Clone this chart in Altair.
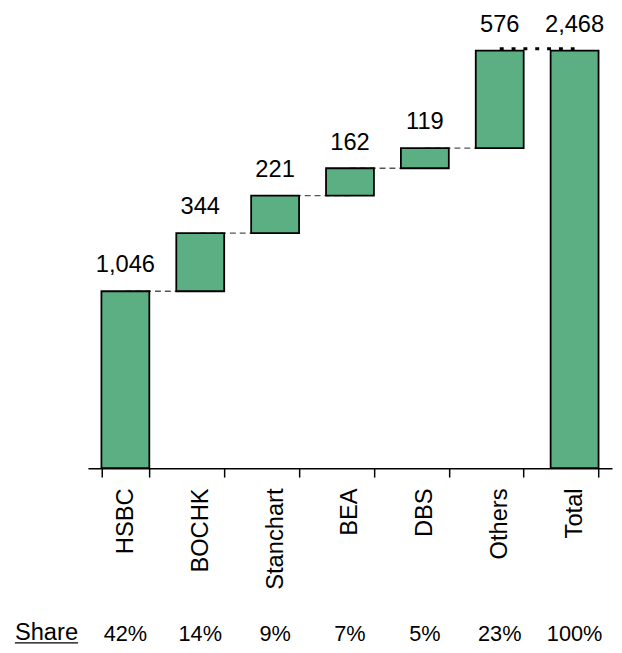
import altair as alt
import pandas as pd

categories = ["HSBC", "BOCHK", "Stanchart", "BEA", "DBS", "Others", "Total"]
values = [1046, 344, 221, 162, 119, 576, 2468]
shares = ["42%", "14%", "9%", "7%", "5%", "23%", "100%"]
value_labels = ["1,046", "344", "221", "162", "119", "576", "2,468"]

rows = []
cum = 0
for c, v, s, lab in zip(categories, values, shares, value_labels):
    if c == "Total":
        start, end = 0, v
    else:
        start, end = cum, cum + v
        cum = end
    rows.append({"cat": c, "start": start, "end": end, "share": s, "label": lab})
df = pd.DataFrame(rows)

conn = []
for i in range(len(categories) - 1):
    kind = "total" if categories[i + 1] == "Total" else "step"
    conn.append({"cat": categories[i], "next": categories[i + 1],
                 "level": rows[i]["end"], "kind": kind})
cdf = pd.DataFrame(conn)

FONT = "Liberation Sans"
xscale = alt.Scale(domain=categories, paddingInner=0.36, paddingOuter=0.18)
yscale = alt.Scale(domain=[0, 2468], nice=False, zero=True)

xaxis = alt.Axis(title=None, labelAngle=-90, labelFontSize=24, labelFont=FONT,
                 labelColor="black", tickSize=9, tickColor="black", tickWidth=1.5,
                 domainColor="black", domainWidth=1.5, tickBand="extent",
                 labelPadding=11, labelAlign="right", labelBaseline="middle")

base = alt.Chart(df)

steps = alt.Chart(cdf).transform_filter(alt.datum.kind == "step").mark_rule(
    color="#555555", strokeDash=[6, 4], strokeWidth=1.3
).encode(
    x=alt.X("cat:N", scale=xscale, axis=xaxis, sort=categories),
    x2="next:N",
    y=alt.Y("level:Q", scale=yscale, axis=None),
)

bars = base.mark_bar(color="#5BAF83", stroke="black", strokeWidth=1.8).encode(
    x=alt.X("cat:N", scale=xscale, axis=xaxis, sort=categories),
    y=alt.Y("start:Q", scale=yscale, axis=None),
    y2="end:Q",
)

tot = alt.Chart(cdf).transform_filter(alt.datum.kind == "total").mark_rule(
    color="black", strokeDash=[4, 8], strokeWidth=3, yOffset=-2
).encode(
    x=alt.X("cat:N", scale=xscale, axis=xaxis, sort=categories),
    x2="next:N",
    y=alt.Y("level:Q", scale=yscale, axis=None),
)

labels = base.mark_text(font=FONT, fontSize=24, color="black",
                        baseline="alphabetic", dy=-19).encode(
    x=alt.X("cat:N", scale=xscale, axis=xaxis, sort=categories),
    y=alt.Y("end:Q", scale=yscale, axis=None),
    text="label:N",
)

share_vals = base.mark_text(font=FONT, fontSize=22, color="black",
                            baseline="alphabetic").encode(
    x=alt.X("cat:N", scale=xscale, axis=xaxis, sort=categories),
    y=alt.value(598),
    text="share:N",
)

share_title = alt.Chart(pd.DataFrame({"t": ["Share"]})).mark_text(
    font=FONT, fontSize=24, color="black", baseline="alphabetic", align="center"
).encode(x=alt.value(-42), y=alt.value(597), text="t:N")

underline = alt.Chart(pd.DataFrame({"t": ["Share"]})).mark_rule(
    color="black", strokeWidth=1.5
).encode(x=alt.value(-74), x2=alt.value(-10), y=alt.value(600))

chart = alt.layer(steps, bars, tot, labels, share_vals, share_title, underline).properties(
    width=531, height=423,
    padding={"left": 81, "top": 39, "right": 2, "bottom": 183},
    autosize=alt.AutoSizeParams(type="none"),
).configure_view(stroke=None)

chart.save("out.html", embed_options={"renderer": "svg", "actions": False})
